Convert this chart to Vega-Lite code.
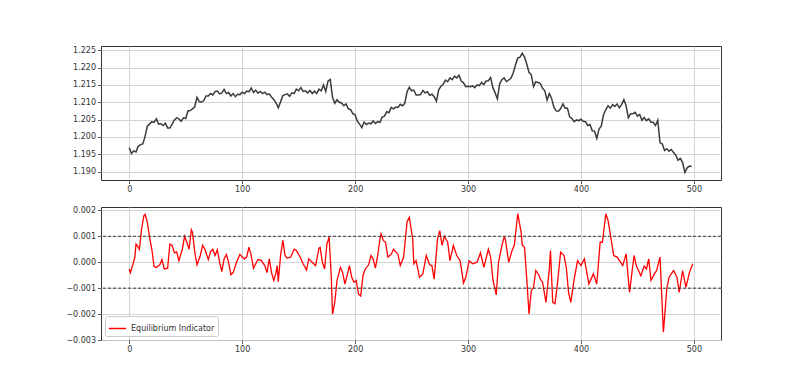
{
"$schema": "https://vega.github.io/schema/vega-lite/v6.json",
"padding": {"left": 65, "top": 45, "right": 5, "bottom": 5},
"background": "white",
"bounds": "flush",
"spacing": 27,
"resolve": {"legend": {"color": "independent"}},
"config": {
 "font": "DejaVu Sans",
 "view": {"stroke": "#333", "strokeWidth": 1},
 "axis": {"domain": false, "labelOverlap": false, "labelFont": "DejaVu Sans", "labelFontSize": 8, "labelColor": "#333", "tickColor": "#333", "tickSize": 3.5, "tickWidth": 0.8, "gridColor": "#cfcfcf", "gridWidth": 0.9, "title": null},
 "axisX": {"labelPadding": 1.5},
 "axisY": {"labelPadding": 2}
},
"vconcat": [
 {
  "width": 620, "height": 134,
  "data": {"values": [
{"x":0,"price":1.1969},{"x":2,"price":1.1952},{"x":4,"price":1.1960},{"x":6,"price":1.1957},{"x":8,"price":1.1973},{"x":10,"price":1.1978},{"x":12,"price":1.1980},{"x":14,"price":1.2001},{"x":16,"price":1.2031},{"x":18,"price":1.2037},
{"x":20,"price":1.2044},{"x":22,"price":1.2042},{"x":24,"price":1.2052},{"x":26,"price":1.2037},{"x":28,"price":1.2038},{"x":30,"price":1.2033},{"x":32,"price":1.2040},{"x":34,"price":1.2026},{"x":36,"price":1.2026},{"x":38,"price":1.2037},
{"x":40,"price":1.2049},{"x":42,"price":1.2055},{"x":44,"price":1.2052},{"x":46,"price":1.2045},{"x":48,"price":1.2055},{"x":50,"price":1.2053},{"x":52,"price":1.2075},{"x":54,"price":1.2076},{"x":56,"price":1.2081},{"x":58,"price":1.2087},
{"x":60,"price":1.2114},{"x":62,"price":1.2102},{"x":64,"price":1.2100},{"x":66,"price":1.2105},{"x":68,"price":1.2118},{"x":70,"price":1.2118},{"x":72,"price":1.2125},{"x":74,"price":1.2121},{"x":76,"price":1.2131},{"x":78,"price":1.2132},
{"x":80,"price":1.2124},{"x":82,"price":1.2127},{"x":84,"price":1.2137},{"x":86,"price":1.2125},{"x":88,"price":1.2128},{"x":90,"price":1.2118},{"x":92,"price":1.2125},{"x":94,"price":1.2116},{"x":96,"price":1.2123},{"x":98,"price":1.2122},
{"x":100,"price":1.2129},{"x":102,"price":1.2125},{"x":104,"price":1.2132},{"x":106,"price":1.2130},{"x":108,"price":1.2141},{"x":110,"price":1.2128},{"x":112,"price":1.2135},{"x":114,"price":1.2126},{"x":116,"price":1.2131},{"x":118,"price":1.2125},
{"x":120,"price":1.2129},{"x":122,"price":1.2122},{"x":124,"price":1.2124},{"x":126,"price":1.2115},{"x":128,"price":1.2108},{"x":130,"price":1.2098},{"x":132,"price":1.2084},{"x":134,"price":1.2101},{"x":136,"price":1.2119},{"x":138,"price":1.2122},
{"x":140,"price":1.2124},{"x":142,"price":1.2117},{"x":144,"price":1.2127},{"x":146,"price":1.2125},{"x":148,"price":1.2138},{"x":150,"price":1.2133},{"x":152,"price":1.2142},{"x":154,"price":1.2131},{"x":156,"price":1.2133},{"x":158,"price":1.2127},
{"x":160,"price":1.2134},{"x":162,"price":1.2125},{"x":164,"price":1.2132},{"x":166,"price":1.2125},{"x":168,"price":1.2138},{"x":170,"price":1.2133},{"x":172,"price":1.2150},{"x":174,"price":1.2131},{"x":176,"price":1.2161},{"x":178,"price":1.2166},
{"x":180,"price":1.2114},{"x":182,"price":1.2097},{"x":184,"price":1.2107},{"x":186,"price":1.2100},{"x":188,"price":1.2098},{"x":190,"price":1.2090},{"x":192,"price":1.2095},{"x":194,"price":1.2081},{"x":196,"price":1.2079},{"x":198,"price":1.2067},
{"x":200,"price":1.2064},{"x":202,"price":1.2045},{"x":204,"price":1.2037},{"x":206,"price":1.2027},{"x":208,"price":1.2043},{"x":210,"price":1.2036},{"x":212,"price":1.2040},{"x":214,"price":1.2038},{"x":216,"price":1.2046},{"x":218,"price":1.2039},
{"x":220,"price":1.2044},{"x":222,"price":1.2042},{"x":224,"price":1.2057},{"x":226,"price":1.2060},{"x":228,"price":1.2073},{"x":230,"price":1.2070},{"x":232,"price":1.2085},{"x":234,"price":1.2081},{"x":236,"price":1.2086},{"x":238,"price":1.2085},
{"x":240,"price":1.2094},{"x":242,"price":1.2090},{"x":244,"price":1.2097},{"x":246,"price":1.2130},{"x":248,"price":1.2143},{"x":250,"price":1.2133},{"x":252,"price":1.2135},{"x":254,"price":1.2121},{"x":256,"price":1.2121},{"x":258,"price":1.2122},
{"x":260,"price":1.2134},{"x":262,"price":1.2127},{"x":264,"price":1.2130},{"x":266,"price":1.2120},{"x":268,"price":1.2123},{"x":270,"price":1.2116},{"x":272,"price":1.2103},{"x":274,"price":1.2136},{"x":276,"price":1.2146},{"x":278,"price":1.2152},
{"x":280,"price":1.2164},{"x":282,"price":1.2159},{"x":284,"price":1.2170},{"x":286,"price":1.2165},{"x":288,"price":1.2175},{"x":290,"price":1.2170},{"x":292,"price":1.2178},{"x":294,"price":1.2161},{"x":296,"price":1.2156},{"x":298,"price":1.2145},
{"x":300,"price":1.2146},{"x":302,"price":1.2145},{"x":304,"price":1.2147},{"x":306,"price":1.2142},{"x":308,"price":1.2150},{"x":310,"price":1.2148},{"x":312,"price":1.2157},{"x":314,"price":1.2151},{"x":316,"price":1.2161},{"x":318,"price":1.2162},
{"x":320,"price":1.2171},{"x":322,"price":1.2142},{"x":324,"price":1.2127},{"x":326,"price":1.2110},{"x":328,"price":1.2153},{"x":330,"price":1.2165},{"x":332,"price":1.2170},{"x":334,"price":1.2159},{"x":336,"price":1.2164},{"x":338,"price":1.2169},
{"x":340,"price":1.2184},{"x":342,"price":1.2207},{"x":344,"price":1.2227},{"x":346,"price":1.2230},{"x":348,"price":1.2241},{"x":350,"price":1.2230},{"x":352,"price":1.2210},{"x":354,"price":1.2186},{"x":356,"price":1.2179},{"x":358,"price":1.2145},
{"x":360,"price":1.2159},{"x":362,"price":1.2157},{"x":364,"price":1.2154},{"x":366,"price":1.2140},{"x":368,"price":1.2133},{"x":370,"price":1.2106},{"x":372,"price":1.2125},{"x":374,"price":1.2111},{"x":376,"price":1.2086},{"x":378,"price":1.2075},
{"x":380,"price":1.2074},{"x":382,"price":1.2082},{"x":384,"price":1.2095},{"x":386,"price":1.2083},{"x":388,"price":1.2083},{"x":390,"price":1.2058},{"x":392,"price":1.2053},{"x":394,"price":1.2044},{"x":396,"price":1.2049},{"x":398,"price":1.2047},
{"x":400,"price":1.2051},{"x":402,"price":1.2045},{"x":404,"price":1.2044},{"x":406,"price":1.2033},{"x":408,"price":1.2036},{"x":410,"price":1.2018},{"x":412,"price":1.2017},{"x":414,"price":1.1996},{"x":416,"price":1.2023},{"x":418,"price":1.2032},
{"x":420,"price":1.2064},{"x":422,"price":1.2079},{"x":424,"price":1.2090},{"x":426,"price":1.2083},{"x":428,"price":1.2093},{"x":430,"price":1.2088},{"x":432,"price":1.2095},{"x":434,"price":1.2084},{"x":436,"price":1.2093},{"x":438,"price":1.2108},
{"x":440,"price":1.2089},{"x":442,"price":1.2055},{"x":444,"price":1.2067},{"x":446,"price":1.2067},{"x":448,"price":1.2071},{"x":450,"price":1.2060},{"x":452,"price":1.2065},{"x":454,"price":1.2048},{"x":456,"price":1.2056},{"x":458,"price":1.2047},
{"x":460,"price":1.2052},{"x":462,"price":1.2042},{"x":464,"price":1.2042},{"x":466,"price":1.2033},{"x":468,"price":1.2048},{"x":470,"price":1.1983},{"x":472,"price":1.1980},{"x":474,"price":1.1961},{"x":476,"price":1.1966},{"x":478,"price":1.1959},
{"x":480,"price":1.1964},{"x":482,"price":1.1955},{"x":484,"price":1.1947},{"x":486,"price":1.1933},{"x":488,"price":1.1938},{"x":490,"price":1.1926},{"x":492,"price":1.1898},{"x":494,"price":1.1911},{"x":496,"price":1.1916},{"x":498,"price":1.1915}
  ]},
  "mark": {"type": "line", "color": "#1a1a1a", "strokeWidth": 1.5, "opacity": 0.85},
  "encoding": {
   "x": {"field": "x", "type": "quantitative", "scale": {"domain": [-25, 524], "nice": false, "zero": false}, "axis": {"values": [0,100,200,300,400,500], "format": "d", "tickCount": 20}},
   "y": {"field": "price", "type": "quantitative", "scale": {"domain": [1.1876, 1.2262], "nice": false, "zero": false}, "axis": {"values": [1.19,1.195,1.2,1.205,1.21,1.215,1.22,1.225], "format": ".3f", "tickCount": 20}}
  }
 },
 {
  "width": 620, "height": 133,
  "layer": [
   {
    "data": {"values": [
{"x":0,"v":-0.00026},{"x":1,"v":-0.0004},{"x":3,"v":-0.00013},{"x":5,"v":0.0002},{"x":6,"v":0.0007},{"x":8,"v":0.00058},{"x":9,"v":0.0005},{"x":11,"v":0.0013},{"x":13,"v":0.0018},{"x":14,"v":0.00185},
{"x":16,"v":0.00155},{"x":18,"v":0.00097},{"x":20,"v":0.0005},{"x":22,"v":-0.00017},{"x":24,"v":-0.0002},{"x":27,"v":-0.0001},{"x":29,"v":0.0001},{"x":31,"v":-0.00026},{"x":34,"v":-0.00023},{"x":36,"v":0.0007},
{"x":38,"v":0.00065},{"x":40,"v":0.00036},{"x":42,"v":0.0004},{"x":44,"v":0.00006},{"x":47,"v":0.0005},{"x":49,"v":0.001},{"x":51,"v":0.00077},{"x":53,"v":0.0005},{"x":55,"v":0.00125},{"x":56,"v":0.00115},
{"x":58,"v":0.0004},{"x":60,"v":-0.0001},{"x":63,"v":0.00026},{"x":65,"v":0.00065},{"x":67,"v":0.0005},{"x":70,"v":0.0001},{"x":72,"v":0.0004},{"x":74,"v":0.0005},{"x":76,"v":0.00026},{"x":78,"v":0.00048},
{"x":80,"v":0.0},{"x":82,"v":-0.00036},{"x":84,"v":0.00013},{"x":86,"v":0.0003},{"x":88,"v":0.0},{"x":90,"v":-0.00048},{"x":92,"v":-0.0004},{"x":95,"v":0.0},{"x":98,"v":0.0003},{"x":100,"v":0.0002},
{"x":102,"v":0.00013},{"x":104,"v":0.0002},{"x":106,"v":0.00058},{"x":108,"v":0.00026},{"x":110,"v":-0.00023},{"x":112,"v":-0.00006},{"x":114,"v":0.0001},{"x":117,"v":0.00006},{"x":120,"v":-0.00013},{"x":122,"v":-0.0004},
{"x":124,"v":0.00013},{"x":126,"v":-0.0004},{"x":128,"v":-0.0007},{"x":130,"v":-0.0004},{"x":131,"v":-0.00013},{"x":132,"v":-0.00075},{"x":134,"v":0.00026},{"x":136,"v":0.00084},{"x":138,"v":0.00026},{"x":140,"v":0.00015},
{"x":143,"v":0.0002},{"x":146,"v":0.0005},{"x":148,"v":0.00045},{"x":151,"v":0.00023},{"x":154,"v":-0.00006},{"x":157,"v":-0.0003},{"x":159,"v":0.00013},{"x":162,"v":0.0},{"x":165,"v":-0.00013},{"x":168,"v":0.00054},
{"x":169,"v":0.00058},{"x":171,"v":0.0},{"x":173,"v":-0.00026},{"x":175,"v":0.0007},{"x":177,"v":0.00097},{"x":179,"v":-0.00065},{"x":180,"v":-0.002},{"x":182,"v":-0.00155},{"x":184,"v":-0.0007},{"x":187,"v":-0.0002},
{"x":189,"v":-0.0004},{"x":191,"v":-0.00084},{"x":193,"v":-0.0005},{"x":195,"v":-0.00013},{"x":197,"v":-0.00058},{"x":199,"v":-0.00077},{"x":201,"v":-0.0007},{"x":203,"v":-0.00123},{"x":205,"v":-0.0013},{"x":207,"v":-0.0005},
{"x":209,"v":-0.00026},{"x":212,"v":-0.0001},{"x":214,"v":0.00026},{"x":216,"v":0.00013},{"x":218,"v":-0.00023},{"x":220,"v":0.00026},{"x":222,"v":0.0009},{"x":223,"v":0.0011},{"x":225,"v":0.00084},{"x":227,"v":0.00077},
{"x":229,"v":0.0002},{"x":232,"v":0.0003},{"x":234,"v":0.0005},{"x":236,"v":0.0004},{"x":238,"v":0.0003},{"x":240,"v":-0.00013},{"x":243,"v":0.0002},{"x":246,"v":0.00155},{"x":248,"v":0.00174},{"x":251,"v":0.0009},
{"x":252,"v":-0.00006},{"x":254,"v":0.00006},{"x":257,"v":-0.00058},{"x":260,"v":-0.00045},{"x":263,"v":0.00026},{"x":266,"v":-0.0001},{"x":268,"v":-0.00013},{"x":270,"v":-0.00065},{"x":273,"v":0.0009},{"x":275,"v":0.00122},
{"x":277,"v":0.00065},{"x":279,"v":0.001},{"x":282,"v":0.00077},{"x":284,"v":0.00006},{"x":287,"v":0.00065},{"x":290,"v":0.00026},{"x":293,"v":0.00006},{"x":296,"v":-0.0008},{"x":298,"v":-0.00058},{"x":301,"v":0.00006},
{"x":304,"v":-0.00006},{"x":308,"v":0.0},{"x":311,"v":0.00036},{"x":314,"v":-0.0002},{"x":318,"v":0.0005},{"x":320,"v":0.0002},{"x":322,"v":-0.00065},{"x":325,"v":-0.00126},{"x":327,"v":0.0},{"x":330,"v":0.00065},
{"x":332,"v":0.00097},{"x":333,"v":0.0009},{"x":336,"v":0.0},{"x":339,"v":0.00045},{"x":341,"v":0.00065},{"x":344,"v":0.00187},{"x":347,"v":0.00116},{"x":348,"v":0.00067},{"x":350,"v":0.00058},{"x":352,"v":-0.00065},
{"x":354,"v":-0.002},{"x":356,"v":-0.0011},{"x":358,"v":-0.00097},{"x":360,"v":-0.00032},{"x":363,"v":-0.00052},{"x":364,"v":-0.00065},{"x":366,"v":-0.00077},{"x":369,"v":-0.00155},{"x":372,"v":-0.00026},{"x":373,"v":0.00045},
{"x":375,"v":-0.00155},{"x":377,"v":-0.0016},{"x":379,"v":-0.0009},{"x":382,"v":0.00039},{"x":385,"v":0.00026},{"x":387,"v":-0.0002},{"x":389,"v":-0.00116},{"x":391,"v":-0.00155},{"x":394,"v":-0.00065},{"x":397,"v":0.00006},
{"x":400,"v":-0.00013},{"x":403,"v":0.00013},{"x":407,"v":-0.00084},{"x":411,"v":-0.00045},{"x":414,"v":-0.00084},{"x":417,"v":0.00077},{"x":419,"v":0.00077},{"x":422,"v":0.00187},{"x":424,"v":0.00161},{"x":429,"v":0.00026},
{"x":432,"v":0.0002},{"x":435,"v":0.0},{"x":437,"v":-0.00013},{"x":440,"v":0.00032},{"x":443,"v":-0.00116},{"x":447,"v":0.00026},{"x":449,"v":-0.00013},{"x":453,"v":-0.00052},{"x":456,"v":-0.00015},{"x":458,"v":-0.00026},
{"x":460,"v":0.00013},{"x":462,"v":-0.0007},{"x":465,"v":-0.00045},{"x":467,"v":-0.00032},{"x":470,"v":0.0002},{"x":473,"v":-0.0027},{"x":476,"v":-0.00103},{"x":478,"v":-0.00058},{"x":482,"v":-0.00032},{"x":485,"v":-0.00058},
{"x":487,"v":-0.00116},{"x":490,"v":-0.00032},{"x":493,"v":-0.00097},{"x":496,"v":-0.0004},{"x":499,"v":-0.00006}
    ]},
    "mark": {"type": "line", "strokeWidth": 1.3},
    "encoding": {
     "x": {"field": "x", "type": "quantitative", "scale": {"domain": [-25, 524], "nice": false, "zero": false}, "axis": {"values": [0,100,200,300,400,500], "format": "d", "tickCount": 20}},
     "y": {"field": "v", "type": "quantitative", "scale": {"domain": [-0.003, 0.00213], "nice": false, "zero": false}, "axis": {"values": [-0.003,-0.002,-0.001,0,0.001,0.002], "format": ".3f", "tickCount": 20}},
     "color": {"datum": "Equilibrium Indicator", "type": "nominal", "scale": {"range": ["#ff0000"]},
      "legend": {"title": null, "orient": "bottom-left", "offset": 4, "symbolType": "stroke", "symbolSize": 300, "symbolStrokeWidth": 1.5, "labelFontSize": 8, "labelFont": "DejaVu Sans", "labelColor": "#333", "strokeColor": "#cccccc", "fillColor": "white", "cornerRadius": 2, "padding": 3}}
    }
   },
   {
    "data": {"values": [{"level": 0.001}, {"level": -0.001}]},
    "mark": {"type": "rule", "color": "#333", "strokeWidth": 1, "strokeDash": [3, 2]},
    "encoding": {"y": {"field": "level", "type": "quantitative", "axis": {"values": [-0.003,-0.002,-0.001,0,0.001,0.002], "format": ".3f", "tickCount": 20}}}
   }
  ]
 }
]
}
